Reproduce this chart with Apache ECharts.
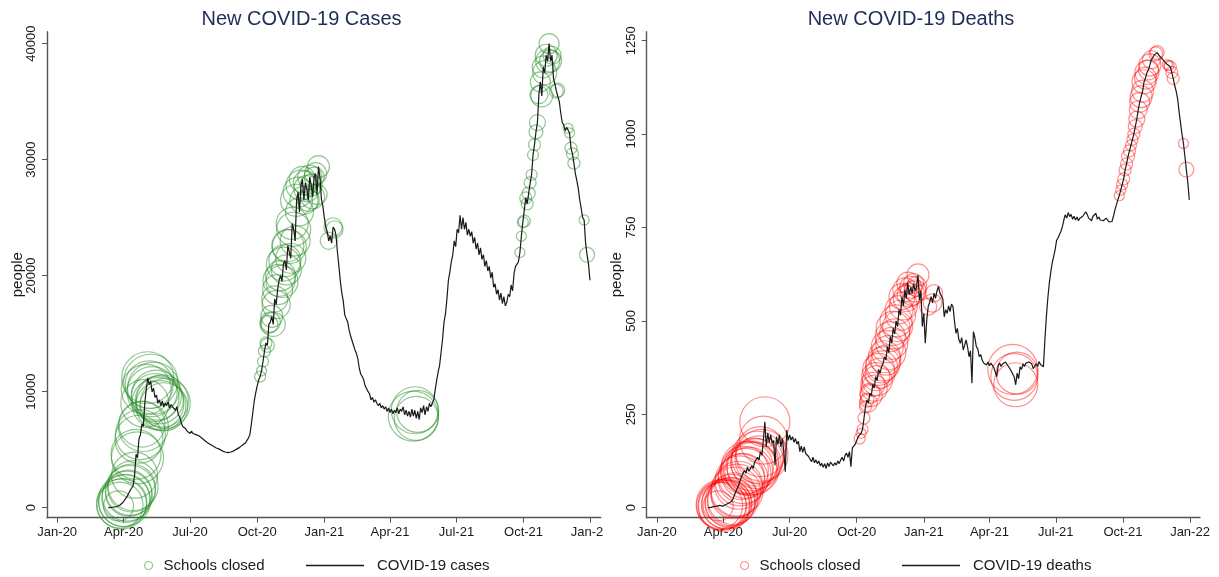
<!DOCTYPE html>
<html><head><meta charset="utf-8">
<script src="https://cdn.jsdelivr.net/npm/echarts@6/dist/echarts.min.js"></script>
<style>
html,body{margin:0;padding:0;background:#fff;width:1219px;height:577px;overflow:hidden}
#left{position:absolute;left:0;top:0;width:603px;height:577px}
#right{position:absolute;left:603px;top:0;width:616px;height:577px}
</style>
</head><body><div id="left"></div><div id="right"></div>
<script>
// ---- data ----
const seriesStart = '2020-03-11';   // first daily observation shown
const stepDays = 2;                 // one value every 2 days
const caseValues = [
  0, 10, 20, 40, 60, 80, 100, 150, 230, 330,
  450, 600, 800, 1000, 1250, 1500, 1700, 1900, 2800, 4600,
  4300, 5900, 6300, 7200, 7000, 9000, 10200, 11200, 10600, 10900,
  10000, 10300, 9500, 9700, 9000, 9300, 8800, 9200, 8700, 9000,
  8800, 9100, 8600, 8900, 8700, 8800, 8400, 8700, 8000, 7800,
  7300, 7000, 6900, 6800, 6600, 6700, 6400, 6600, 6400, 6500,
  6300, 6400, 6200, 6300, 6000, 5900, 5800, 5700, 5600, 5500,
  5450, 5350, 5300, 5200, 5150, 5100, 5050, 4950, 4900, 4850,
  4800, 4700, 4750, 4650, 4800, 4700, 4900, 4850, 5050, 5100,
  5200, 5300, 5400, 5500, 5600, 5700, 6000, 6300, 7200, 8200,
  9200, 9900, 10500, 11000, 11300, 11800, 12600, 13500, 14200, 14000,
  15800, 16000, 16500, 15800, 18000, 17500, 18800, 19600, 20000, 19500,
  21000, 21300, 20500, 22600, 22500, 21500, 24500, 24000, 23000, 26500,
  27200, 25500, 27800, 28300, 26500, 28000, 27500, 26500, 28500, 27800,
  26800, 28500, 28800, 27000, 29400, 28500, 26600, 26000, 25000, 24200,
  23800, 23000, 23400, 22800, 24200, 24000, 23500, 22000, 20800, 19500,
  18500, 17800, 16600, 16500, 16000, 15300, 14800, 14700, 14000, 13600,
  13300, 12800, 12000, 11500, 11300, 11000, 10500, 10400, 10000, 9800,
  9300, 9500, 9100, 9300, 9000, 8800, 9000, 8600, 8800, 8500,
  8700, 8300, 8600, 8200, 8500, 8100, 8400, 8200, 8600, 8100,
  8500, 8300, 8700, 8000, 8400, 7900, 8300, 7800, 8500, 7900,
  8400, 7700, 8300, 7600, 8600, 8200, 8800, 8000, 8700, 8300,
  9000, 8700, 9000, 9300, 10200, 11000, 11700, 12300, 13400, 14500,
  16000, 16700, 18000, 19600, 20300, 21200, 21800, 23000, 22500, 24000,
  23700, 25200, 24000, 25000, 24000, 24600, 23500, 24000, 23400, 23800,
  22800, 23300, 22300, 22800, 21800, 22400, 21400, 21800, 20800, 21300,
  20400, 20800, 19800, 20300, 19000, 19300, 18400, 18800, 17900, 18500,
  17600, 18200, 17400, 17700, 18400, 18200, 19200, 18700, 20200, 20800,
  21000, 21200, 22000, 23400, 24600, 24700, 26700, 26200, 27100, 28000,
  28700, 30400, 31300, 32400, 33200, 35600, 36700, 35500, 38000, 37500,
  39000, 38500, 40000, 38500, 39000, 37000, 36500, 35900, 36000, 35000,
  34000, 33200, 33000, 32500, 32800, 32700, 32300, 31000, 30500, 29700,
  28800, 28200, 27500, 26500, 25800, 25000, 24800, 22800, 21800, 21000,
  19600
];
const deathValues = [
  0, 0, 1, 2, 3, 3, 4, 5, 6, 8,
  4, 6, 8, 10, 12, 14, 16, 22, 32, 42,
  47, 60, 72, 83, 78, 100, 92, 108, 98, 104,
  112, 105, 122, 118, 135, 128, 150, 140, 181, 230,
  163, 200, 175, 195, 172, 180, 114, 190, 170, 195,
  163, 185, 150, 96, 208, 180, 195, 181, 190, 175,
  185, 170, 178, 150, 165, 148, 163, 145, 150, 137,
  140, 123, 135, 120, 128, 118, 125, 112, 119, 108,
  118, 105, 120, 110, 122, 119, 112, 120, 114, 125,
  118, 128, 135, 125, 140, 146, 135, 150, 110, 160,
  163, 170, 175, 190, 185, 199, 210, 240, 270, 288,
  280, 306, 300, 330, 320, 351, 340, 370, 360, 377,
  385, 404, 395, 431, 415, 458, 440, 480, 465, 500,
  485, 530, 515, 565, 540, 583, 560, 601, 570, 590,
  574, 600, 580, 592, 623, 556, 580, 485, 520, 440,
  502, 538, 550, 565, 548, 574, 560, 580, 592, 575,
  580, 560, 511, 530, 520, 540, 525, 545, 538, 500,
  467, 480, 450, 440, 455, 422, 435, 449, 430, 404,
  420, 333, 471, 455, 431, 425, 404, 410, 395, 387,
  392, 382, 390, 380, 387, 385, 375, 380, 351, 380,
  387, 378, 385, 380, 390, 387, 378, 372, 365, 370,
  350, 329, 360, 345, 377, 370, 385, 378, 387, 382,
  390, 395, 385, 372, 377, 385, 378, 391, 383, 388,
  377, 449, 510, 560, 600, 630, 655, 672, 690, 715,
  722, 725, 740, 752, 770, 784, 775, 790, 779, 785,
  772, 780, 770, 778, 768, 775, 772, 780, 775, 792,
  785, 775, 770, 768, 780, 775, 788, 772, 778, 770,
  775, 768, 772, 775, 770, 765, 761, 766, 780, 797,
  810, 824, 835, 850, 865, 880, 904, 920, 940, 955,
  970, 985, 1000, 1020, 1040, 1065, 1085, 1100, 1115, 1140,
  1150, 1165, 1172, 1185, 1199, 1205, 1212, 1215, 1218, 1212,
  1207, 1203, 1198, 1194, 1190, 1186, 1183, 1180, 1165, 1149,
  1130, 1115, 1095, 1060, 1030, 1000, 975, 940, 905, 870,
  824
];
// days (counted from dayZero) on which schools were closed, and how many
const dayZero = '2020-01-01';
const closureDay = [
  84, 86, 88, 90, 92, 94, 96, 98, 100, 102, 104, 106, 108, 110, 112, 114, 116,
  118, 120, 122, 124, 126, 128, 130, 132, 134, 136, 138, 140, 142, 144, 146, 148,
  278, 280, 282, 284, 286, 288, 290, 292, 294, 296, 298, 300, 302, 304, 306, 308,
  310, 312, 314, 316, 318, 320, 322, 324, 326, 328, 330, 332, 334, 336, 338, 340,
  342, 344, 346, 348, 350, 352, 354, 356, 358,
  372, 378, 380,
  488, 490, 492, 494,
  634, 636, 638, 640, 642, 644, 646, 648, 650, 652, 654, 656, 658, 660, 662, 664,
  666, 668, 670, 672, 674, 676, 678, 684, 686, 700, 702, 704, 706, 708, 722, 726
];
const schoolsClosed = [
  186, 437, 517, 476, 559, 476, 517, 437, 517, 476, 517, 437, 517, 559, 476, 517, 437,
  517, 476, 517, 559, 476, 602, 517, 559, 476, 517, 559, 476, 517, 559, 476, 517,
  25, 21, 25, 30, 30, 40, 67, 83, 100, 119, 140, 162, 186, 212, 186, 212,
  239, 212, 186, 212, 239, 186, 212, 239, 186, 212, 186, 162, 186, 140, 162, 119,
  140, 100, 119, 100, 119, 83, 100, 83, 100,
  60, 70, 60,
  517, 456, 400, 364,
  21, 21, 25, 30, 30, 30, 35, 30, 25, 25, 30, 40, 53, 67, 83, 100,
  100, 119, 100, 119, 83, 100, 67, 40, 40, 21, 21, 30, 30, 30, 21, 46
];
const xTickDates = ['2020-01-01','2020-04-01','2020-07-01','2020-10-01','2021-01-01','2021-04-01','2021-07-01','2021-10-01','2022-01-01'];
const xTickLabels = ['Jan-20','Apr-20','Jul-20','Oct-20','Jan-21','Apr-21','Jul-21','Oct-21','Jan-22'];
const caseTicks = [0, 10000, 20000, 30000, 40000];
const deathTicks = [0, 250, 500, 750, 1000, 1250];

// ---- build ----
const DAY = 86400000;
const t0 = Date.parse(seriesStart);
const d0 = Date.parse(dayZero);
const tickTimes = xTickDates.map(d => Date.parse(d));
function lineData(vals) { return vals.map((v, i) => [t0 + i * stepDays * DAY, v]); }
function circleData(vals) {
  return closureDay.map((d, i) => {
    const t = d0 + d * DAY;
    const idx = Math.round((t - t0) / (stepDays * DAY));
    return [t, vals[idx], schoolsClosed[i]];
  });
}
const FONT = "'Liberation Sans', Arial, sans-serif";
const AXC = '#555';
const LINEC = '#1a1a1a';

function makeOption(cfg) {
  return {
    animation: false,
    backgroundColor: '#fff',
    textStyle: { fontFamily: FONT },
    title: {
      text: cfg.title, left: cfg.titleLeft, top: 4,
      textStyle: { fontSize: 20, fontWeight: 'normal', color: '#1e2d55', fontFamily: FONT }
    },
    legend: [
      {
        data: [{ name: 'Schools closed', icon: 'circle',
          itemStyle: { color: 'rgba(0,0,0,0)', borderColor: cfg.circleColor, borderWidth: 1.2 } }],
        left: cfg.leg1Left, top: 558, padding: 0, itemWidth: 8, itemHeight: 8,
        textStyle: { fontSize: 15, color: '#1a1a1a', fontFamily: FONT, padding: [0, 0, 0, 6] },
        selectedMode: false
      },
      {
        data: [{ name: cfg.lineName, icon: 'path://M0,0H58V1.3H0Z', itemStyle: { color: LINEC } }],
        left: cfg.leg2Left, top: 558, padding: 0, itemWidth: 58, itemHeight: 12,
        textStyle: { fontSize: 15, color: '#1a1a1a', fontFamily: FONT, padding: [0, 0, 0, 8] },
        selectedMode: false
      }
    ],
    grid: { left: cfg.gridLeft, right: cfg.gridRight, top: 31.7, bottom: 59.3,
            containLabel: false, outerBoundsMode: 'none' },
    xAxis: {
      type: 'value',
      min: d0 - 14 * DAY, max: d0 + 744.7 * DAY,
      axisLine: { show: true, onZero: false, lineStyle: { color: AXC, width: 1.4 } },
      axisTick: { show: true, length: 5, lineStyle: { color: AXC, width: 1 }, customValues: tickTimes },
      axisLabel: {
        customValues: tickTimes, margin: 8, fontSize: 13, color: '#1a1a1a', fontFamily: FONT,
        hideOverlap: false,
        formatter: function (v) {
          for (let i = 0; i < tickTimes.length; i++) if (Math.abs(tickTimes[i] - v) < DAY) return xTickLabels[i];
          return '';
        }
      },
      splitLine: { show: false }
    },
    yAxis: {
      type: 'value', min: cfg.yMin, max: cfg.yMax,
      name: 'people', nameLocation: 'middle', nameGap: 22, nameRotate: 90, nameMoveOverlap: false,
      nameTextStyle: { fontSize: 15, color: '#1a1a1a', fontFamily: FONT },
      axisLine: { show: true, lineStyle: { color: AXC, width: 1.4 } },
      axisTick: { show: true, length: 5, lineStyle: { color: AXC, width: 1 }, customValues: cfg.yTicks },
      axisLabel: { customValues: cfg.yTicks, rotate: 90, margin: 9, fontSize: 13, color: '#1a1a1a',
                   fontFamily: FONT, formatter: v => String(v) },
      splitLine: { show: false }
    },
    series: [
      {
        name: 'Schools closed', type: 'scatter', clip: false,
        data: circleData(cfg.values),
        symbol: 'circle',
        symbolSize: d => Math.sqrt(d[2]) * 2.2,
        itemStyle: { color: 'rgba(0,0,0,0)', borderColor: cfg.circleColor, borderWidth: 1.2 },
        emphasis: { disabled: true }, z: 2
      },
      {
        name: cfg.lineName, type: 'line', data: lineData(cfg.values),
        symbol: 'none', showSymbol: false,
        lineStyle: { color: LINEC, width: 1.2 }, itemStyle: { color: LINEC },
        emphasis: { disabled: true }, z: 3
      }
    ]
  };
}

const left = echarts.init(document.getElementById('left'), null, { renderer: 'canvas' });
left.setOption(makeOption({
  title: 'New COVID-19 Cases', titleLeft: 'center',
  lineName: 'COVID-19 cases', values: caseValues, circleColor: 'rgba(34,139,34,0.62)',
  leg1Left: 144, leg2Left: 306, gridLeft: 47, gridRight: 2.3,
  yMin: -862, yMax: 41030, yTicks: caseTicks
}));
const right = echarts.init(document.getElementById('right'), null, { renderer: 'canvas' });
right.setOption(makeOption({
  title: 'New COVID-19 Deaths', titleLeft: 'center',
  lineName: 'COVID-19 deaths', values: deathValues, circleColor: 'rgba(255,0,0,0.55)',
  leg1Left: 137, leg2Left: 299, gridLeft: 43.7, gridRight: 19,
  yMin: -26.8, yMax: 1274, yTicks: deathTicks
}));
</script>
</body></html>
